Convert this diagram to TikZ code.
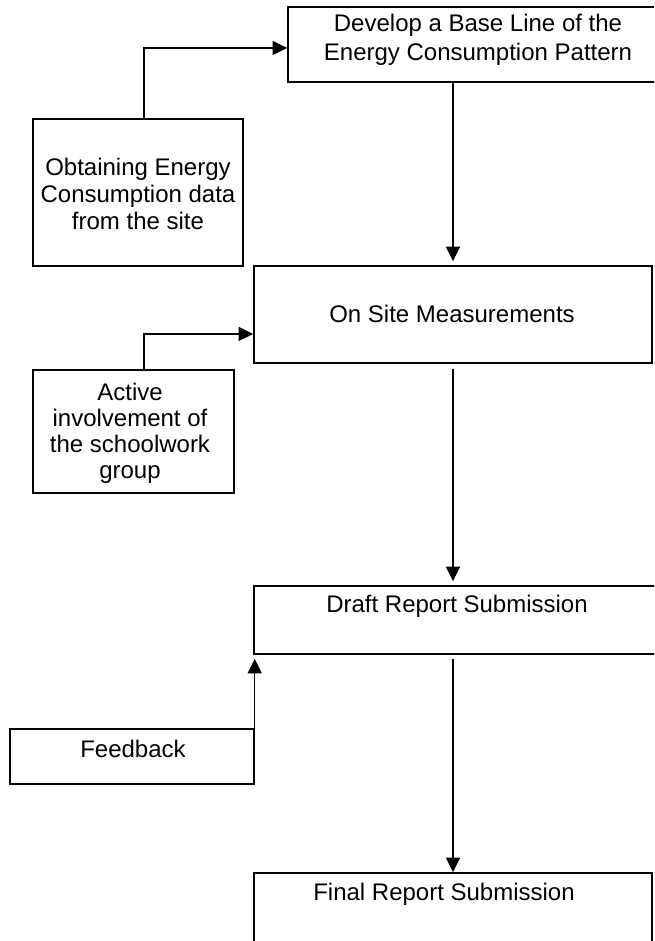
\documentclass[tikz,border=0pt]{standalone}
\usepackage{fontspec}
\setmainfont{Liberation Sans}
\usetikzlibrary{arrows.meta}

\begin{document}
\begin{tikzpicture}[x=0.75pt, y=-0.75pt, box/.style={draw, line width=1.1pt, inner sep=0pt}, txt/.style={align=center, inner sep=0pt, font=\fontsize{18pt}{20pt}\selectfont}, flow/.style={line width=1.1pt, -{Triangle[length=11pt, width=10.5pt]}}]

		\useasboundingbox (0,0) rectangle (654,941);
		\clip (0,0) rectangle (654,941);

		% boxes
		\node[box, minimum width=285pt, minimum height=56.25pt] (base) at (478,44.5) {};
		\node[box, minimum width=157.5pt, minimum height=110.25pt] (obtain) at (138,192.5) {};
		\node[box, minimum width=298.5pt, minimum height=72.75pt] (onsite) at (453,314.5) {};
		\node[box, minimum width=150.75pt, minimum height=92.25pt] (active) at (133.5,431.5) {};
		\node[box, minimum width=304.5pt, minimum height=51pt] (draft) at (457,620) {};
		\node[box, minimum width=183pt, minimum height=41.25pt] (feedback) at (132,756.5) {};
		\node[box, minimum width=298.5pt, minimum height=95.25pt] (final) at (453,936.5) {};

		% texts
		\node[txt, font=\fontsize{18pt}{21.5pt}\selectfont] (baseText) at (478,39.5) {Develop a Base Line of the\\Energy Consumption Pattern};
		\node[txt] (obtainText) at (138,194) {Obtaining Energy\\Consumption data\\from the site};
		\node[txt] (onsiteText) at (452,313.5) {On Site Measurements};
		\node[txt, font=\fontsize{18pt}{19.5pt}\selectfont] (activeText) at (130,433) {Active\\involvement of\\the schoolwork\\group};
		\node[txt] (draftText) at (457,606) {Draft Report Submission};
		\node[txt] (feedbackText) at (133,749) {Feedback};
		\node[txt] (finalText) at (444,894) {Final Report Submission};

		% connectors
		\draw[flow] ([xshift=4.5pt]obtain.north) |- ([yshift=-2.6pt]base.west);

		\draw[flow] ([xshift=7.9pt]active.north) |- ([yshift=-14.6pt]onsite.west);

		\draw[flow, shorten >=3pt] (base.south -| onsite.north) -- (onsite.north);

		\draw[flow, shorten <=3.75pt, shorten >=3pt] (onsite.south) -- (onsite.south |- draft.north);

		\draw[flow, shorten >=3pt] (feedback.north east) -- (feedback.north east |- draft.south);

		\draw[flow, shorten <=3pt] (draft.south -| final.north) -- (final.north);

	\end{tikzpicture}
\end{document}
